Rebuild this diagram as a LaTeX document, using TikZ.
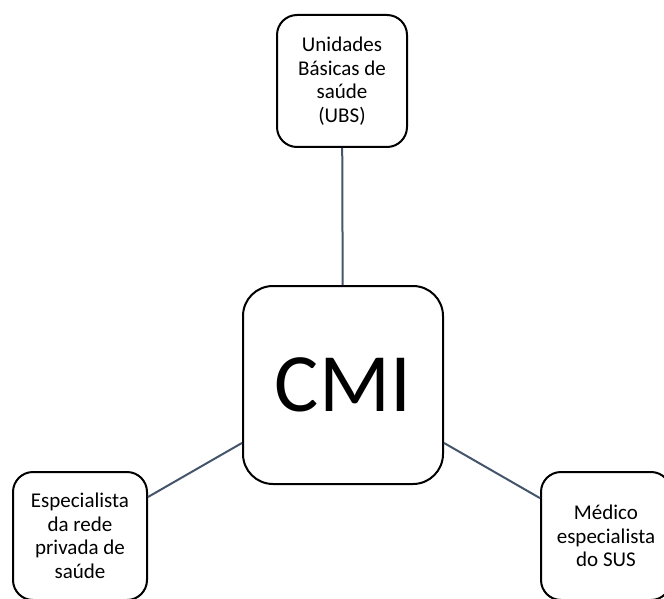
\documentclass[tikz,border=0pt]{standalone}
\usepackage{fontspec}
\setmainfont{Carlito}
\definecolor{linkc}{HTML}{44546A}
\begin{document}
\begin{tikzpicture}[x=1pt,y=-1pt,
  box/.style={draw=black,line width=2pt,rounded corners=20pt,fill=white,align=center,
    inner sep=0pt,font=\fontsize{21}{23.5}\selectfont},
  link/.style={draw=linkc,line width=2pt}]
\useasboundingbox (0,0) rectangle (664,599);
\clip (0,0) rectangle (664,599);
\node[box,minimum width=130pt,minimum height=132pt] (ubs) at (342,81) {Unidades\\Básicas de\\saúde\\(UBS)};
\node[box,minimum width=200pt,minimum height=198pt,rounded corners=30pt,font=\fontsize{83}{96}\selectfont] (cmi) at (343,385) {CMI};
\node[box,minimum width=134pt,minimum height=128pt] (priv) at (80,536) {Especialista\\da rede\\privada de\\saúde};
\node[box,minimum width=130pt,minimum height=128pt] (sus) at (606,536) {Médico\\especialista\\do SUS};
\draw[link] (ubs) -- (cmi);
\draw[link] (priv) -- (cmi);
\draw[link] (sus) -- (cmi);
\end{tikzpicture}
\end{document}
